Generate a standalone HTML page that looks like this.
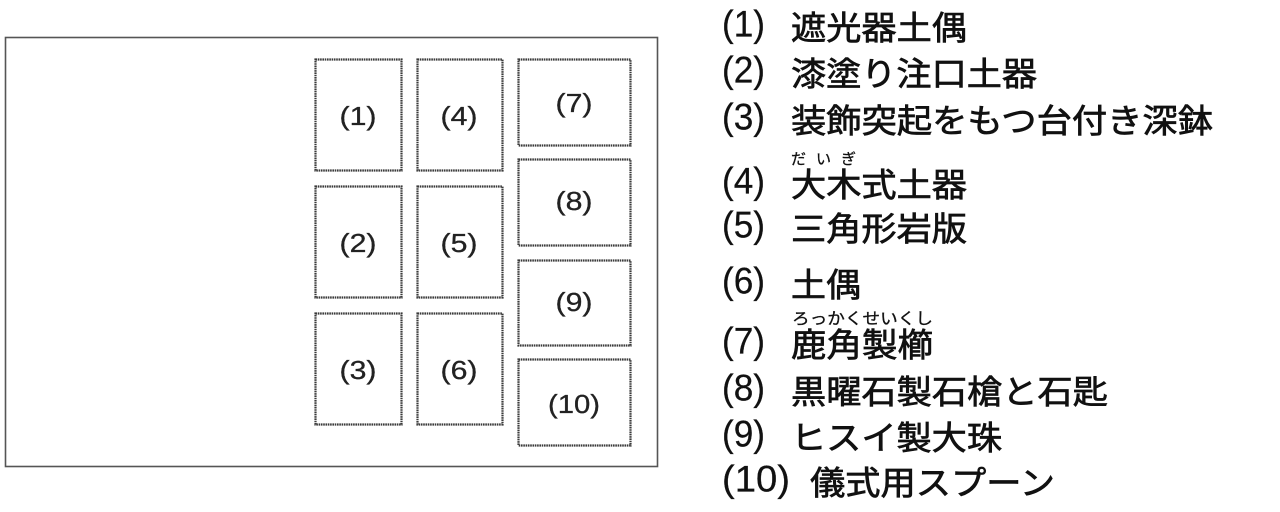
<!DOCTYPE html>
<html>
<head>
<meta charset="utf-8">
<style>
  html, body { margin: 0; padding: 0; background: #fff; }
  body { width: 1280px; height: 512px; overflow: hidden; }
  svg { display: block; }
  .jp { font-family: "Liberation Sans", "Noto Sans CJK JP", sans-serif; fill: #111; stroke: #111; stroke-width: 0.7; }
  .rb { font-family: "Liberation Sans", "Noto Sans CJK JP", sans-serif; fill: #111; stroke: #111; stroke-width: 0.3; }
  .num { font-family: "Liberation Sans", sans-serif; fill: #111; stroke: #111; stroke-width: 0.25; }
  .bl { font-family: "Liberation Sans", sans-serif; fill: #222; stroke: #222; stroke-width: 0.3; }
</style>
</head>
<body>
<svg width="1280" height="512" viewBox="0 0 1280 512" xmlns="http://www.w3.org/2000/svg">
  <rect x="0" y="0" width="1280" height="512" fill="#fff"/>
  <!-- outer frame -->
  <rect x="5.5" y="37.5" width="652" height="429" fill="none" stroke="#555" stroke-width="1.6"/>

  <!-- boxes -->
  <g fill="none" stroke="#3a3a3a" stroke-width="2.2" stroke-dasharray="1.6 0.7">
    <rect x="315.5" y="59.5" width="86" height="111"/>
    <rect x="315.5" y="186.5" width="86" height="111"/>
    <rect x="315.5" y="313.5" width="86" height="111"/>
    <rect x="417.5" y="59.5" width="85" height="111"/>
    <rect x="417.5" y="186.5" width="85" height="111"/>
    <rect x="417.5" y="313.5" width="85" height="111"/>
    <rect x="518.5" y="59.5" width="112" height="86"/>
    <rect x="518.5" y="159.5" width="112" height="86"/>
    <rect x="518.5" y="260.5" width="112" height="85"/>
    <rect x="518.5" y="359.5" width="112" height="86"/>
  </g>

  <!-- box labels -->
  <g class="bl" font-size="26" text-anchor="middle">
    <text x="358" y="125" textLength="37" lengthAdjust="spacingAndGlyphs">(1)</text>
    <text x="358" y="252" textLength="37" lengthAdjust="spacingAndGlyphs">(2)</text>
    <text x="358" y="379" textLength="37" lengthAdjust="spacingAndGlyphs">(3)</text>
    <text x="459" y="125" textLength="37" lengthAdjust="spacingAndGlyphs">(4)</text>
    <text x="459" y="252" textLength="37" lengthAdjust="spacingAndGlyphs">(5)</text>
    <text x="459" y="379" textLength="37" lengthAdjust="spacingAndGlyphs">(6)</text>
    <text x="574" y="112" textLength="37" lengthAdjust="spacingAndGlyphs">(7)</text>
    <text x="574" y="210" textLength="37" lengthAdjust="spacingAndGlyphs">(8)</text>
    <text x="574" y="311" textLength="37" lengthAdjust="spacingAndGlyphs">(9)</text>
    <text x="574" y="413" textLength="52" lengthAdjust="spacingAndGlyphs">(10)</text>
  </g>

  <!-- legend numbers -->
  <g class="num" font-size="37">
    <text x="722" y="36.5" textLength="43" lengthAdjust="spacingAndGlyphs">(1)</text>
    <text x="722" y="82.5" textLength="43" lengthAdjust="spacingAndGlyphs">(2)</text>
    <text x="722" y="129.5" textLength="43" lengthAdjust="spacingAndGlyphs">(3)</text>
    <text x="722" y="193.5" textLength="43" lengthAdjust="spacingAndGlyphs">(4)</text>
    <text x="722" y="237.5" textLength="43" lengthAdjust="spacingAndGlyphs">(5)</text>
    <text x="722" y="293.5" textLength="43" lengthAdjust="spacingAndGlyphs">(6)</text>
    <text x="722" y="353.5" textLength="43" lengthAdjust="spacingAndGlyphs">(7)</text>
    <text x="722" y="400.5" textLength="43" lengthAdjust="spacingAndGlyphs">(8)</text>
    <text x="722" y="446.5" textLength="43" lengthAdjust="spacingAndGlyphs">(9)</text>
    <text x="722" y="491.5" textLength="68" lengthAdjust="spacingAndGlyphs">(10)</text>
  </g>

  <!-- legend text -->
  <g class="jp" font-size="33">
    <text x="791" y="39.5" textLength="176" lengthAdjust="spacingAndGlyphs">遮光器土偶</text>
    <text x="791" y="85.5" textLength="246" lengthAdjust="spacingAndGlyphs">漆塗り注口土器</text>
    <text x="791" y="132.5" textLength="422" lengthAdjust="spacingAndGlyphs">装飾突起をもつ台付き深鉢</text>
    <text x="791" y="196.5" textLength="176" lengthAdjust="spacingAndGlyphs">大木式土器</text>
    <text x="791" y="240.5" textLength="176" lengthAdjust="spacingAndGlyphs">三角形岩版</text>
    <text x="791" y="296.5" textLength="70" lengthAdjust="spacingAndGlyphs">土偶</text>
    <text x="791" y="356.5" textLength="142" lengthAdjust="spacingAndGlyphs">鹿角製櫛</text>
    <text x="791" y="403.5" textLength="317" lengthAdjust="spacingAndGlyphs">黒曜石製石槍と石匙</text>
    <text x="791" y="449.5" textLength="211" lengthAdjust="spacingAndGlyphs">ヒスイ製大珠</text>
    <text x="810" y="494.5" textLength="245" lengthAdjust="spacingAndGlyphs">儀式用スプーン</text>
  </g>

  <!-- ruby -->
  <g class="rb" font-size="15">
    <text x="791" y="164">だ</text>
    <text x="816" y="164">い</text>
    <text x="841" y="164">ぎ</text>
  </g>
  <text class="rb" font-size="16" x="792" y="324" textLength="141" lengthAdjust="spacingAndGlyphs">ろっかくせいくし</text>
</svg>
</body>
</html>
